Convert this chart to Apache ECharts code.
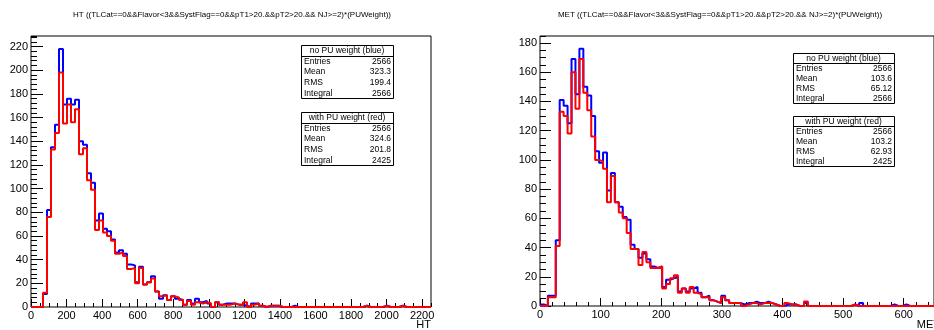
<!DOCTYPE html>
<html><head><meta charset="utf-8">
<script src="https://cdn.jsdelivr.net/npm/echarts@6/dist/echarts.min.js"></script>
<style>html,body{margin:0;padding:0;background:#fff}#c{width:934px;height:330px}</style>
</head><body><div id="c"></div>
<script>
// ---------- DATA ----------
const htTitle = 'HT ((TLCat==0&&Flavor<3&&SystFlag==0&&pT1>20.&&pT2>20.&& NJ>=2)*(PUWeight))';
const metTitle = 'MET ((TLCat==0&&Flavor<3&&SystFlag==0&&pT1>20.&&pT2>20.&& NJ>=2)*(PUWeight))';
const htMin = 0, htMax = 2250, htBinWidth = 22.5;
const metMin = 0, metMax = 650, metBinWidth = 6.5;
const htYMax = 228.9, metYMax = 184.8;

const htBlue = [0,0,0,11,82,135,154,218,171,176, 171,175,140,137,113,105,73,79,66,64,
  57,46,48,45,36,35,21,34,19,21, 26,13,7,10,6,9,7,6,2,6, 3,7,4,5,3,0,4,2,3,3,
  3,2,2,1,0,3,3,1,0,1, 1,1,0,0,0,1,0,0,0,0, 0,0,0,0,0,0,0,0,0,0,
  0,0,0,1,0,0,0,0,1,0, 0,0,1,0,0,0,0,0,0,0];
const htRed = [0,0,0,12,76,133,147,198,155,171, 156,167,129,134,107,99,65,73,63,60,
  56,45,46,43,32,33,20,33,19,21, 24,13,9,10,6,9,8,6,2,5, 2,4,3,4,3,0,4,2,2,2,
  3,2,2,4,0,2,3,1,0,1, 1,1,0,0,0,0,0,0,0,0, 0,0,0,0,0,0,0,0,0,0,
  0,0,0,1,0,0,0,0,1,0, 0,0,1,0,0,0,0,0,0,0];
const metBlue = [1,0,7,7,45,141,137,125,169,145, 176,150,144,130,106,98,105,79,91,71,
  68,61,59,42,39,33,36,32,27,26, 27,13,18,19,20,10,12,10,12,13, 9,6,7,4,3,2,7,4,2,2,
  2,1,2,2,3,2,2,3,2,1, 0,0,1,1,1,0,0,2,0,0, 0,0,0,0,0,0,0,0,0,1,
  0,2,0,0,0,0,0,0,0,1, 0,0,1,0,0,0,0,0,0,0];
const metRed = [0,0,6,6,41,133,130,118,160,135, 169,146,134,116,100,99,94,71,89,71,
  64,60,50,39,39,28,37,30,26,26, 27,12,15,19,21,9,12,9,13,9, 8,6,6,4,3,2,6,4,2,2,
  2,0,1,2,2,1,2,2,2,1, 0,0,2,1,1,0,0,3,0,0, 0,0,0,0,0,0,0,0,0,1,
  0,0,0,0,0,0,0,0,0,0, 0,0,0,0,0,0,0,0,0,0];

const statLabels = ['Entries','Mean','RMS','Integral'];
const htStatsBlue = ['2566','323.3','199.4','2566'];
const htStatsRed  = ['2566','324.6','201.8','2425'];
const metStatsBlue = ['2566','103.6','65.12','2566'];
const metStatsRed  = ['2566','103.2','62.93','2425'];
const headerBlue = 'no PU weight (blue)';
const headerRed = 'with PU weight (red)';

// ---------- BUILD ----------
const FONT = '"Liberation Sans", Arial, Helvetica, sans-serif';
function hist(values, lo, w) {
  const pts = values.map((v, i) => [lo + i * w, v]);
  pts.push([lo + values.length * w, values[values.length - 1]]);
  return pts;
}
function mkAxis(grid, min, max, interval, tickLen, labels) {
  return {
    type: 'value', gridIndex: grid, min: min, max: max, interval: interval,
    axisLine: { show: false, onZero: false },
    axisTick: { show: true, inside: true, length: tickLen, lineStyle: { color: '#000', width: 1 } },
    axisLabel: { show: labels, fontSize: 11, color: '#000', fontFamily: FONT, margin: 3,
      showMaxLabel: false, formatter: v => String(v) },
    splitLine: { show: false }
  };
}
const xAxes = [
  Object.assign(mkAxis(0, htMin, htMax, 200, 8, true), { position: 'bottom' }),
  Object.assign(mkAxis(0, htMin, htMax, 50, 4, false), { position: 'bottom' }),
  Object.assign(mkAxis(1, metMin, metMax, 100, 8, true), { position: 'bottom' }),
  Object.assign(mkAxis(1, metMin, metMax, 20, 4, false), { position: 'bottom' })
];
const yAxes = [
  Object.assign(mkAxis(0, 0, htYMax, 20, 12, true), { position: 'left' }),
  Object.assign(mkAxis(0, 0, htYMax, 4, 6, false), { position: 'left' }),
  Object.assign(mkAxis(1, 0, metYMax, 20, 11, true), { position: 'left' }),
  Object.assign(mkAxis(1, 0, metYMax, 5, 6, false), { position: 'left' })
];
function line(data, color, xi, yi) {
  return { type: 'line', xAxisIndex: xi, yAxisIndex: yi, data: data, step: 'end',
    showSymbol: false, symbol: 'none', lineStyle: { color: color, width: 2 }, silent: true, z: color === '#ff0000' ? 3 : 2 };
}
function statsBox(x, y, w, h, header, vals) {
  const rowH = h / 5;
  const ch = [
    { type: 'rect', shape: { x: x + 0.5, y: y + 0.5, width: w, height: h }, style: { fill: '#fff', stroke: '#000', lineWidth: 1 } },
    { type: 'line', shape: { x1: x, y1: Math.round(y + rowH) + 0.5, x2: x + w, y2: Math.round(y + rowH) + 0.5 }, style: { stroke: '#000', lineWidth: 1 } },
    { type: 'text', x: x + w / 2, y: y + rowH / 2 + 0.5, style: { text: header, fontSize: 8.5, fontFamily: FONT, fill: '#000', align: 'center', verticalAlign: 'middle' } }
  ];
  statLabels.forEach((lab, i) => {
    const yy = y + rowH * (i + 1.5) + 0.5;
    ch.push({ type: 'text', x: x + 3, y: yy, style: { text: lab, fontSize: 8.5, fontFamily: FONT, fill: '#000', align: 'left', verticalAlign: 'middle' } });
    ch.push({ type: 'text', x: x + w - 2, y: yy, style: { text: vals[i], fontSize: 8.5, fontFamily: FONT, fill: '#000', align: 'right', verticalAlign: 'middle' } });
  });
  return { type: 'group', children: ch, z: 10 };
}
const graphics = [
  { type: 'text', x: 232, y: 15, style: { text: htTitle, fontSize: 8, fontFamily: FONT, fill: '#000', align: 'center', verticalAlign: 'middle' } },
  { type: 'text', x: 720, y: 15, style: { text: metTitle, fontSize: 8, fontFamily: FONT, fill: '#000', align: 'center', verticalAlign: 'middle' } },
  { type: 'text', x: 431, y: 325, style: { text: 'HT', fontSize: 11, fontFamily: FONT, fill: '#000', align: 'right', verticalAlign: 'middle' } },
  { type: 'text', x: 940, y: 325, style: { text: 'MET', fontSize: 11, fontFamily: FONT, fill: '#000', align: 'right', verticalAlign: 'middle' } },
  statsBox(301, 45, 92, 53, headerBlue, htStatsBlue),
  statsBox(301, 112, 92, 53, headerRed, htStatsRed),
  statsBox(793, 53, 101, 50, headerBlue, metStatsBlue),
  statsBox(793, 116, 101, 50, headerRed, metStatsRed)
];
const chart = echarts.init(document.getElementById('c'), null, { renderer: 'canvas' });
chart.setOption({
  animation: false,
  backgroundColor: '#fff',
  grid: [
    { left: 31, top: 36, width: 400, height: 271, show: true, borderColor: '#000', borderWidth: 1, backgroundColor: 'transparent' },
    { left: 540, top: 36, width: 400, height: 270, show: true, borderColor: '#000', borderWidth: 1, backgroundColor: 'transparent' }
  ],
  xAxis: xAxes,
  yAxis: yAxes,
  series: [
    line(hist(htBlue, htMin, htBinWidth), '#0000ff', 0, 0),
    line(hist(htRed, htMin, htBinWidth), '#ff0000', 0, 0),
    line(hist(metBlue, metMin, metBinWidth), '#0000ff', 2, 2),
    line(hist(metRed, metMin, metBinWidth), '#ff0000', 2, 2)
  ],
  graphic: graphics
});
</script></body></html>
